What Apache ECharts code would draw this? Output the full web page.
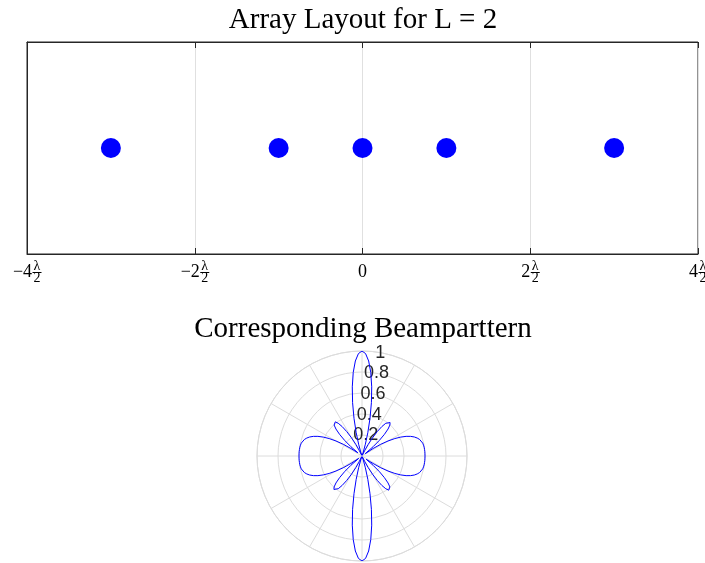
<!DOCTYPE html>
<html>
<head>
<meta charset="utf-8">
<script src="https://cdn.jsdelivr.net/npm/echarts@6/dist/echarts.min.js"></script>
<style>html,body{margin:0;padding:0;background:#fff;}#chart{width:705px;height:563px;}</style>
</head>
<body>
<div id="chart"></div>
<script>
// ---- data ----
const topTitle = 'Array Layout for L = 2';
const bottomTitle = 'Corresponding Beamparttern';
const elementX = [-3, -1, 0, 1, 3];
const elementY = [0, 0, 0, 0, 0];
const xTicks = [-4, -2, 0, 2, 4];
const radiusTicks = [0.2, 0.4, 0.6, 0.8, 1];
// beampattern sampled every 2 degrees, 0..360
const patternAngles = [];
for (let a = 0; a <= 360; a += 2) patternAngles.push(a);
const patternValues = [
  0.600,0.600,0.600,0.599,0.598,0.595,0.591,0.583,0.571,0.553,
  0.530,0.499,0.460,0.411,0.354,0.286,0.211,0.127,0.039,0.051,
  0.140,0.224,0.297,0.357,0.397,0.416,0.413,0.385,0.338,0.274,
  0.200,0.125,0.057,0.008,0.017,0.008,0.036,0.117,0.229,0.366,
  0.516,0.665,0.800,0.907,0.976,1.000,
  0.976,0.907,0.800,0.665,0.516,0.366,0.229,0.117,0.036,0.008,
  0.017,0.008,0.057,0.125,0.200,0.274,0.338,0.385,0.413,0.416,
  0.397,0.357,0.297,0.224,0.140,0.051,0.039,0.127,0.211,0.286,
  0.354,0.411,0.460,0.499,0.530,0.553,0.571,0.583,0.591,0.595,
  0.598,0.599,0.600,0.600,0.600,
  0.600,0.600,0.599,0.598,0.595,0.591,0.583,0.571,0.553,
  0.530,0.499,0.460,0.411,0.354,0.286,0.211,0.127,0.039,0.051,
  0.140,0.224,0.297,0.357,0.397,0.416,0.413,0.385,0.338,0.274,
  0.200,0.125,0.057,0.008,0.017,0.008,0.036,0.117,0.229,0.366,
  0.516,0.665,0.800,0.907,0.976,1.000,
  0.976,0.907,0.800,0.665,0.516,0.366,0.229,0.117,0.036,0.008,
  0.017,0.008,0.057,0.125,0.200,0.274,0.338,0.385,0.413,0.416,
  0.397,0.357,0.297,0.224,0.140,0.051,0.039,0.127,0.211,0.286,
  0.354,0.411,0.460,0.499,0.530,0.553,0.571,0.583,0.591,0.595,
  0.598,0.599,0.600,0.600,0.600
];

const SERIF = '"Liberation Serif", "Times New Roman", serif';
const SANS = '"Liberation Sans", Arial, sans-serif';

function xLabel(v) {
  if (v === 0) return '{sb|}\n{n0|0}\n{sb|}';
  const s = (v < 0 ? '\u2212' : '') + Math.abs(v);
  const k = s.length > 1 ? 'a' : 'b';
  return '{s' + k + '|}{fr|\u03bb}\n{n' + k + '|' + s + '}{bar|}\n{s' + k + '|}{fr|2}';
}

const chart = echarts.init(document.getElementById('chart'), null, {renderer: 'canvas'});
const option = {
  animation: false,
  backgroundColor: '#fff',
  title: [
    {text: topTitle, left: 363, top: 6, padding: 0, textAlign: 'center',
     textStyle: {fontFamily: SERIF, fontSize: 29, fontWeight: 'normal', color: '#000'}},
    {text: bottomTitle, left: 363, top: 315, padding: 0, textAlign: 'center',
     textStyle: {fontFamily: SERIF, fontSize: 29, fontWeight: 'normal', color: '#000'}}
  ],
  grid: [{left: 27, top: 42, width: 671, height: 212, show: true, borderColor: '#262626', borderWidth: 1,
          backgroundColor: 'transparent', containLabel: false, outerBoundsMode: 'none'}],
  xAxis: [
    {gridIndex: 0, type: 'value', min: xTicks[0], max: xTicks[xTicks.length - 1], interval: 2,
     axisLine: {show: true, onZero: false, lineStyle: {color: '#262626'}},
     axisTick: {show: true, inside: true, length: 6, lineStyle: {color: '#262626'}},
     splitLine: {show: true, lineStyle: {color: '#e0e0e0'}},
     axisLabel: {show: true, margin: 8, formatter: xLabel, color: '#000', fontFamily: SERIF, hideOverlap: false,
       rich: {
         fr: {fontFamily: SERIF, fontSize: 14, lineHeight: 9, height: 9, width: 9, color: '#000'},
         sa: {width: 20, height: 9, lineHeight: 9},
         sb: {width: 10, height: 9, lineHeight: 9},
         na: {fontFamily: SERIF, fontSize: 18, width: 20, lineHeight: 3, color: '#000'},
         nb: {fontFamily: SERIF, fontSize: 18, width: 10, lineHeight: 3, color: '#000'},
         n0: {fontFamily: SERIF, fontSize: 18, lineHeight: 3, color: '#000'},
         bar: {width: 9, height: 1, lineHeight: 3, backgroundColor: '#000'}
       }}},
    {gridIndex: 0, type: 'value', position: 'top', min: xTicks[0], max: xTicks[xTicks.length - 1], interval: 2,
     axisLine: {show: true, onZero: false, lineStyle: {color: '#262626'}},
     axisTick: {show: true, inside: true, length: 6, lineStyle: {color: '#262626'}},
     splitLine: {show: false}, axisLabel: {show: false}}
  ],
  yAxis: [
    {gridIndex: 0, type: 'value', min: -1, max: 1,
     axisLine: {show: true, onZero: false, lineStyle: {color: '#262626'}},
     axisTick: {show: false}, axisLabel: {show: false}, splitLine: {show: false}}
  ],
  polar: [
    {center: [362, 456], radius: 105},
    {center: [362, 456], radius: 105}
  ],
  angleAxis: [
    {polarIndex: 0, type: 'value', min: 0, max: 360, interval: 30, startAngle: 0, clockwise: false,
     axisLine: {show: true, lineStyle: {color: '#dcdcdc'}},
     axisTick: {show: false}, axisLabel: {show: false},
     splitLine: {show: true, lineStyle: {color: '#dcdcdc'}}},
    {polarIndex: 1, type: 'value', min: 0, max: 360, startAngle: 80, clockwise: false,
     axisLine: {show: false}, axisTick: {show: false}, axisLabel: {show: false}, splitLine: {show: false}}
  ],
  radiusAxis: [
    {polarIndex: 0, type: 'value', min: 0, max: 1, interval: 0.2,
     axisLine: {show: false}, axisTick: {show: false}, axisLabel: {show: false},
     splitLine: {show: true, lineStyle: {color: '#dcdcdc'}}},
    {polarIndex: 1, type: 'value', min: 0, max: 1, interval: 0.2,
     axisLine: {show: false}, axisTick: {show: false}, splitLine: {show: false},
     axisLabel: {show: true, showMinLabel: false, margin: 0, align: 'center', verticalAlign: 'middle',
       fontFamily: SANS, fontSize: 18, color: '#262626',
       formatter: function (v) { return radiusTicks.indexOf(Math.round(v * 10) / 10) >= 0 ? String(Math.round(v * 10) / 10) : ''; }}}
  ],
  series: [
    {type: 'scatter', xAxisIndex: 0, yAxisIndex: 0, symbolSize: 20,
     itemStyle: {color: '#0000ff', opacity: 1},
     data: elementX.map((x, i) => [x, elementY[i]])},
    {type: 'line', coordinateSystem: 'polar', polarIndex: 0, showSymbol: false, symbol: 'none',
     lineStyle: {color: '#0000ff', width: 1}, z: 5,
     data: patternValues.map((r, i) => [r, patternAngles[i]])}
  ]
};
chart.setOption(option);
</script>
</body>
</html>
